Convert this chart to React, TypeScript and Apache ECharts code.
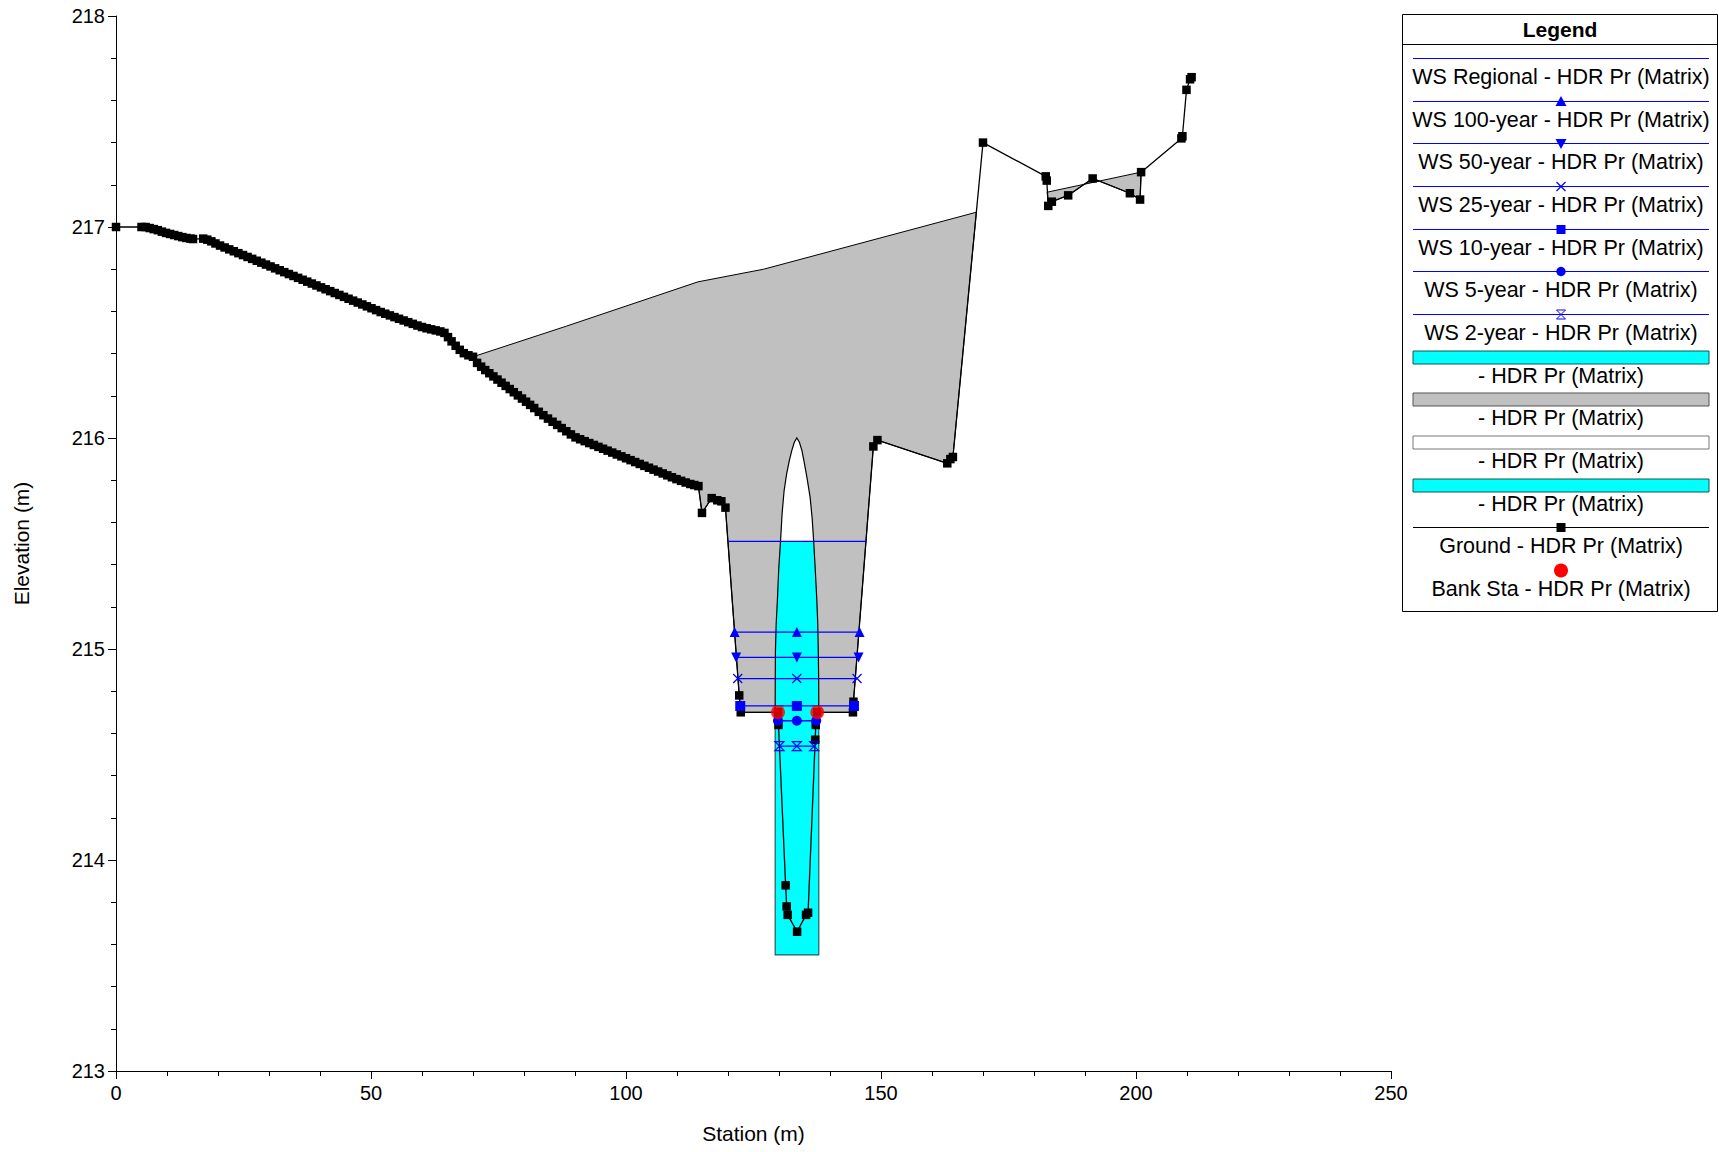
import React, { useEffect, useRef } from "react";
import * as echarts from "echarts";

// ---------- data (station m, elevation m) ----------
const groundLeft: [number, number][] = [
  [0, 217.0], [5.0, 217.0], [5.8, 217.0], [6.6, 216.995], [7.4, 216.99], [8.2, 216.985], [9.0, 216.978],
  [9.8, 216.972], [10.6, 216.967], [11.4, 216.962], [12.2, 216.957], [13.0, 216.952], [13.8, 216.948],
  [14.6, 216.945], [15.1, 216.943],
  [17.1, 216.945], [17.9, 216.94], [18.7, 216.932], [19.5, 216.922], [20.4, 216.912], [21.3, 216.903],
  [22.2, 216.894], [23.1, 216.885], [24.0, 216.876], [24.9, 216.867], [25.8, 216.858], [26.7, 216.849],
  [27.6, 216.84], [28.5, 216.831], [29.4, 216.822], [30.3, 216.813], [31.2, 216.804], [32.1, 216.795],
  [33.0, 216.786], [33.9, 216.777], [34.8, 216.768], [35.7, 216.759], [36.6, 216.75], [37.5, 216.741],
  [38.4, 216.732], [39.3, 216.723], [40.2, 216.714], [41.1, 216.705], [42.0, 216.696], [42.9, 216.687],
  [43.8, 216.678], [44.7, 216.669], [45.6, 216.66], [46.5, 216.651], [47.4, 216.642], [48.3, 216.633],
  [49.2, 216.624], [50.1, 216.615], [51.0, 216.606], [51.9, 216.597], [52.8, 216.589], [53.7, 216.581],
  [54.6, 216.573], [55.5, 216.565], [56.4, 216.557], [57.3, 216.549], [58.2, 216.541], [59.1, 216.533],
  [60.0, 216.526], [60.9, 216.52], [61.8, 216.515], [62.7, 216.51], [63.6, 216.505], [64.4, 216.498],
  [65.1, 216.478], [65.8, 216.458], [66.6, 216.437], [67.4, 216.418], [68.2, 216.402], [69.1, 216.392],
  [70.0, 216.385], [70.8, 216.356], [71.6, 216.338], [72.4, 216.322], [73.2, 216.307], [74.0, 216.292],
  [74.8, 216.277], [75.6, 216.262], [76.4, 216.247], [77.2, 216.232], [78.0, 216.217], [78.8, 216.202],
  [79.6, 216.187], [80.4, 216.172], [81.2, 216.157], [82.0, 216.142], [82.9, 216.124], [83.8, 216.108],
  [84.7, 216.092], [85.6, 216.077], [86.5, 216.062], [87.4, 216.047], [88.3, 216.032], [89.2, 216.017],
  [90.1, 216.003], [91.0, 215.994], [91.9, 215.985], [92.8, 215.976], [93.7, 215.967], [94.6, 215.958],
  [95.5, 215.949], [96.4, 215.94], [97.3, 215.931], [98.2, 215.922], [99.1, 215.913], [100.0, 215.904],
  [100.9, 215.895], [101.8, 215.886], [102.7, 215.877], [103.6, 215.868], [104.5, 215.859], [105.4, 215.85],
  [106.3, 215.841], [107.2, 215.832], [108.1, 215.823], [109.0, 215.814], [109.9, 215.805], [110.8, 215.797],
  [111.7, 215.789], [112.6, 215.782], [113.4, 215.777], [114.2, 215.772],
];

const groundChannel: [number, number][] = [
  [114.9, 215.645], [116.8, 215.715], [117.9, 215.705], [118.7, 215.7], [119.5, 215.67],
  [122.2, 214.78], [122.5, 214.7], [129.8, 214.7], [129.9, 214.64], [131.3, 213.88], [131.5, 213.78],
  [131.7, 213.74], [133.55, 213.66], [135.3, 213.74], [135.7, 213.75], [137.1, 214.57], [137.2, 214.64],
  [137.5, 214.7], [144.5, 214.7], [144.6, 214.75], [148.5, 215.96], [149.3, 215.99],
];

const groundRight: [number, number][] = [
  [163.0, 215.88], [163.6, 215.9], [164.1, 215.91], [170.0, 217.4], [182.3, 217.24], [182.5, 217.22],
  [182.8, 217.1], [183.5, 217.12], [186.7, 217.15], [191.5, 217.23], [198.8, 217.16], [200.8, 217.13],
  [201.0, 217.26], [208.9, 217.42], [209.1, 217.43], [209.9, 217.65], [210.6, 217.7], [210.9, 217.71],
];

// top edge of the grey (roadway / ineffective) areas
const greyTopLeft: [number, number][] = [[70.0, 216.385], [88.3, 216.53], [114.1, 216.74], [127.0, 216.8], [168.7, 217.07]];
const greyTopRight: [number, number][] = [[182.6, 217.165], [201.0, 217.26]];

// culvert arch opening and invert
const culvertArch: [number, number][] = [
  [129.25, 214.72], [129.27, 214.85], [129.3, 214.99], [129.45, 215.12], [129.7, 215.24], [129.95, 215.38],
  [130.3, 215.51], [130.6, 215.64], [131.0, 215.75], [131.5, 215.83], [132.0, 215.89], [132.5, 215.94],
  [133.0, 215.98], [133.5, 216.0], [134.0, 215.98], [134.5, 215.94], [134.9, 215.89], [135.5, 215.81],
  [136.1, 215.72], [136.5, 215.62], [136.8, 215.51], [137.1, 215.38], [137.4, 215.24], [137.6, 215.12],
  [137.7, 214.99], [137.78, 214.85], [137.8, 214.72],
];
const culvertInvert = 213.55;
const culvertWaterElev = 215.51;

// water surfaces
const wsNames = ["WS Regional", "WS 100-year", "WS 50-year", "WS 25-year", "WS 10-year", "WS 5-year", "WS 2-year"];
const wsElevations = [215.51, 215.08, 214.96, 214.86, 214.73, 214.66, 214.54];
const wsStations: number[][] = [
  [120.1, 147.2],
  [121.3, 133.5, 145.8],
  [121.6, 133.5, 145.6],
  [121.9, 133.5, 145.3],
  [122.4, 133.5, 144.7],
  [129.8, 133.5, 137.3],
  [130.1, 133.5, 136.9],
];

const bankStations: [number, number][] = [[129.8, 214.7], [137.5, 214.7]];

const xTicks = { min: 0, max: 250, interval: 50 };
const yTicks = { min: 213, max: 218, interval: 1 };

const legendLabels = [
  "WS Regional - HDR Pr (Matrix)",
  "WS 100-year - HDR Pr (Matrix)",
  "WS 50-year - HDR Pr (Matrix)",
  "WS 25-year - HDR Pr (Matrix)",
  "WS 10-year - HDR Pr (Matrix)",
  "WS 5-year - HDR Pr (Matrix)",
  "WS 2-year - HDR Pr (Matrix)",
  "- HDR Pr (Matrix)",
  "- HDR Pr (Matrix)",
  "- HDR Pr (Matrix)",
  "- HDR Pr (Matrix)",
  "Ground - HDR Pr (Matrix)",
  "Bank Sta - HDR Pr (Matrix)",
];
const legendSymbols = ["none", "triUp", "triDown", "cross", "square", "circle", "hourglass", "cyanBar", "greyBar", "whiteBar", "cyanBar", "ground", "bank"];

// ---------- styles ----------
const FONT = "'Liberation Sans', Arial, sans-serif";
const BLUE = "#0000ff";
const CYAN = "#00ffff";
const GREY = "#c0c0c0";

const wsSymbols: any[] = [
  { symbol: "none" },
  { symbol: "triangle" },
  { symbol: "triangle", symbolRotate: 180 },
  { symbol: "path://M0,0L10,10M10,0L0,10", hollow: true },
  { symbol: "rect" },
  { symbol: "circle" },
  { symbol: "path://M0,0L10,0L0,10L10,10Z", hollow: true },
];

function shapeSeries(points: [number, number][], type: string, style: any, z: number) {
  return {
    type: "custom",
    coordinateSystem: "cartesian2d",
    silent: true,
    z,
    data: [points[0]],
    renderItem: (_p: any, api: any) => ({
      type,
      shape: { points: points.map((p) => api.coord(p)) },
      style,
    }),
  };
}

function buildLegend() {
  const els: any[] = [];
  const bx = 1402.5, by = 14.5, bw = 315, bh = 597;
  els.push({ type: "rect", shape: { x: bx, y: by, width: bw, height: bh }, style: { fill: "#fff", stroke: "#000", lineWidth: 1 }, z: 100 });
  els.push({ type: "line", shape: { x1: bx, y1: 44.5, x2: bx + bw, y2: 44.5 }, style: { stroke: "#000", lineWidth: 1 }, z: 101 });
  els.push({ type: "text", x: 1560, y: 29, style: { text: "Legend", font: `bold 21px ${FONT}`, fill: "#000", align: "center", verticalAlign: "middle" }, z: 101 });
  const x1 = 1413, x2 = 1709, cx = 1561;
  legendLabels.forEach((label, i) => {
    const y = Math.round(58 + i * 42.67) + 0.5;
    const kind = legendSymbols[i];
    const z = 102;
    if (i < 7) {
      els.push({ type: "line", shape: { x1, y1: y, x2, y2: y }, style: { stroke: BLUE, lineWidth: 1 }, z });
      if (kind === "triUp") els.push({ type: "polygon", shape: { points: [[cx, y - 5.5], [cx - 5.5, y + 4.5], [cx + 5.5, y + 4.5]] }, style: { fill: BLUE }, z });
      if (kind === "triDown") els.push({ type: "polygon", shape: { points: [[cx, y + 5.5], [cx - 5.5, y - 4.5], [cx + 5.5, y - 4.5]] }, style: { fill: BLUE }, z });
      if (kind === "cross") {
        els.push({ type: "line", shape: { x1: cx - 4.5, y1: y - 4.5, x2: cx + 4.5, y2: y + 4.5 }, style: { stroke: BLUE, lineWidth: 1.2 }, z });
        els.push({ type: "line", shape: { x1: cx - 4.5, y1: y + 4.5, x2: cx + 4.5, y2: y - 4.5 }, style: { stroke: BLUE, lineWidth: 1.2 }, z });
      }
      if (kind === "square") els.push({ type: "rect", shape: { x: cx - 4.5, y: y - 4.5, width: 9, height: 9 }, style: { fill: BLUE }, z });
      if (kind === "circle") els.push({ type: "circle", shape: { cx, cy: y, r: 4.7 }, style: { fill: BLUE }, z });
      if (kind === "hourglass") els.push({ type: "polygon", shape: { points: [[cx - 4.5, y - 4.5], [cx + 4.5, y - 4.5], [cx - 4.5, y + 4.5], [cx + 4.5, y + 4.5]] }, style: { fill: "none", stroke: BLUE, lineWidth: 1 }, z });
    } else if (kind === "cyanBar" || kind === "greyBar" || kind === "whiteBar") {
      const fill = kind === "cyanBar" ? CYAN : kind === "greyBar" ? GREY : "#fff";
      const stroke = kind === "cyanBar" ? "#1d5050" : kind === "greyBar" ? "#555" : "#777";
      els.push({ type: "rect", shape: { x: x1, y: y - 6.5, width: x2 - x1, height: 13 }, style: { fill, stroke, lineWidth: 1 }, z });
    } else if (kind === "ground") {
      els.push({ type: "line", shape: { x1, y1: y, x2, y2: y }, style: { stroke: "#000", lineWidth: 1 }, z });
      els.push({ type: "rect", shape: { x: cx - 4.5, y: y - 4.5, width: 9, height: 9 }, style: { fill: "#000" }, z });
    } else if (kind === "bank") {
      els.push({ type: "circle", shape: { cx, cy: y, r: 7 }, style: { fill: "#ff0000" }, z });
    }
    els.push({ type: "text", x: cx, y: y + 18.6, style: { text: label, font: `21.5px ${FONT}`, fill: "#000", align: "center", verticalAlign: "middle" }, z });
  });
  return els;
}

export default function App() {
  const ref = useRef<HTMLDivElement>(null);
  useEffect(() => {
    if (!ref.current) return;
    const chart = echarts.init(ref.current, undefined, { renderer: "svg" });

    const ground = [...groundLeft, ...groundChannel, ...groundRight];
    const leftStart = greyTopLeft[0][0];
    const leftEnd = greyTopLeft[greyTopLeft.length - 1][0];
    const greyLeft: [number, number][] = [
      ...greyTopLeft,
      ...ground.filter((p) => p[0] > leftStart && p[0] < leftEnd).reverse(),
    ];
    const rStart = greyTopRight[0][0];
    const rEnd = greyTopRight[greyTopRight.length - 1][0];
    const greyRight: [number, number][] = [
      ...greyTopRight,
      ...ground.filter((p) => p[0] > rStart && p[0] < rEnd).reverse(),
    ];
    const archFirst = culvertArch[0];
    const archLast = culvertArch[culvertArch.length - 1];
    const culvertOpening: [number, number][] = [[archFirst[0], culvertInvert], ...culvertArch, [archLast[0], culvertInvert]];
    const culvertWater: [number, number][] = [
      [archFirst[0], culvertInvert],
      ...culvertArch.filter((p) => p[1] <= culvertWaterElev),
      [archLast[0], culvertInvert],
    ];
    const culvertWalls: [number, number][] = [
      [archFirst[0], archFirst[1]], [archFirst[0], culvertInvert], [archLast[0], culvertInvert], [archLast[0], archLast[1]],
    ];

    const wsSeries = wsNames.map((name, i) => {
      const s = wsSymbols[i];
      return {
        name,
        type: "line",
        z: 20 + i,
        data: wsStations[i].map((st) => [st, wsElevations[i]]),
        symbol: s.symbol,
        symbolRotate: s.symbolRotate || 0,
        symbolSize: s.hollow ? 9 : 10,
        lineStyle: { color: BLUE, width: 1.3 },
        itemStyle: s.hollow ? { color: "rgba(0,0,0,0)", borderColor: BLUE, borderWidth: 1.2 } : { color: BLUE },
        silent: true,
      };
    });

    const axisCommon = {
      axisLine: { show: true, onZero: false, lineStyle: { color: "#000", width: 1 } },
      axisTick: { show: true, length: 8, lineStyle: { color: "#000" } },
      minorTick: { show: true, splitNumber: 5, length: 5, lineStyle: { color: "#000" } },
      splitLine: { show: false },
      axisLabel: { color: "#000", fontSize: 20, fontFamily: FONT },
      nameLocation: "middle" as const,
      nameTextStyle: { color: "#000", fontSize: 21, fontFamily: FONT },
    };

    chart.setOption({
      animation: false,
      textStyle: { fontFamily: FONT },
      grid: { left: 116, top: 16, width: 1275, height: 1055 },
      xAxis: {
        type: "value",
        ...xTicks,
        name: "Station (m)",
        nameGap: 52,
        ...axisCommon,
        axisLabel: { ...axisCommon.axisLabel, margin: 12 },
      },
      yAxis: {
        type: "value",
        ...yTicks,
        name: "Elevation (m)",
        nameGap: 84,
        ...axisCommon,
        axisLabel: { ...axisCommon.axisLabel, margin: 11 },
      },
      series: [
        shapeSeries(greyLeft, "polygon", { fill: GREY, stroke: "#000", lineWidth: 1 }, 2),
        shapeSeries(greyRight, "polygon", { fill: GREY, stroke: "#000", lineWidth: 1 }, 2),
        shapeSeries(culvertOpening, "polygon", { fill: "#fff" }, 3),
        shapeSeries(culvertWater, "polygon", { fill: CYAN }, 4),
        shapeSeries(culvertWalls, "polyline", { fill: "none", stroke: "#2a5a5a", lineWidth: 1.2 }, 5),
        shapeSeries(culvertArch, "polyline", { fill: "none", stroke: "#000", lineWidth: 1.2 }, 5),
        {
          name: "Ground",
          type: "line",
          z: 10,
          data: ground,
          symbol: "rect",
          symbolSize: 8.5,
          itemStyle: { color: "#000" },
          lineStyle: { color: "#000", width: 1.3 },
          silent: true,
        },
        ...wsSeries,
        {
          name: "Bank Sta",
          type: "scatter",
          z: 40,
          data: bankStations,
          symbol: "circle",
          symbolSize: 14,
          itemStyle: { color: "#ff0000" },
          silent: true,
        },
      ],
      graphic: buildLegend(),
    });
    return () => chart.dispose();
  }, []);
  return <div ref={ref} style={{ position: "fixed", left: 0, top: 0, width: 1719, height: 1152, background: "#fff" }} />;
}
